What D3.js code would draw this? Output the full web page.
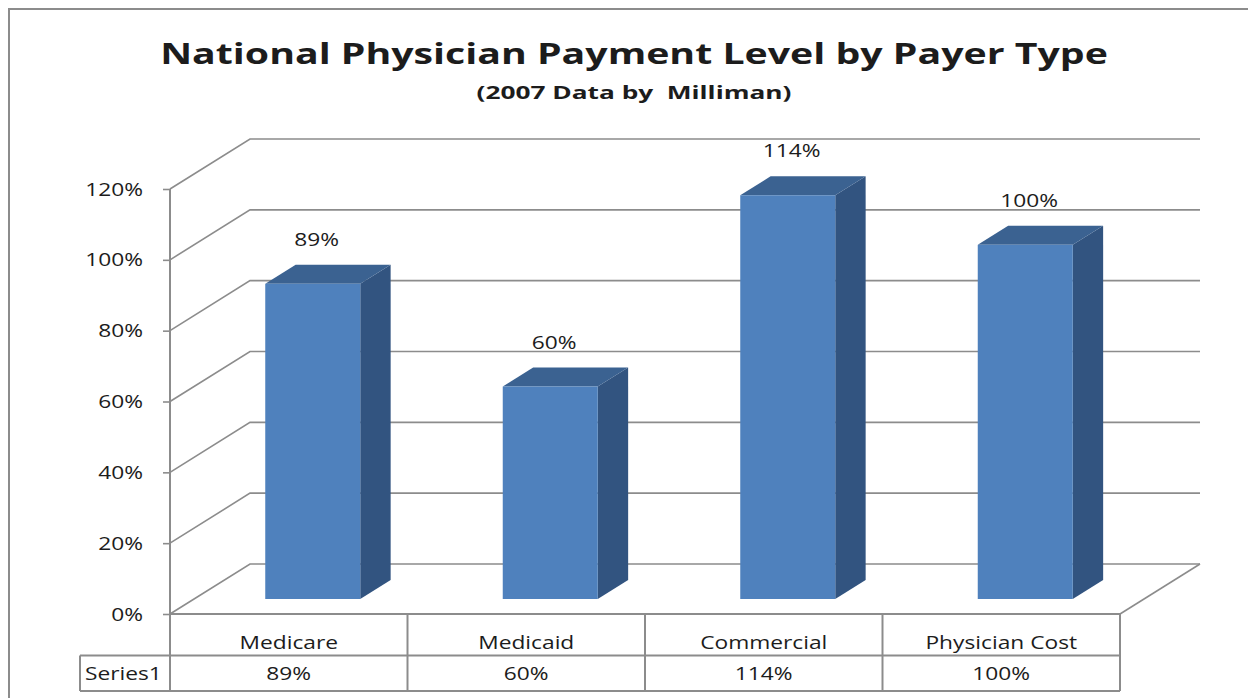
<!DOCTYPE html>
<html>
<head>
<meta charset="utf-8">
<script src="https://cdn.jsdelivr.net/npm/d3@7"></script>
<style>
  body { margin: 0; background: #fff; }
  text { font-family: "Open Sans", "Noto Sans", sans-serif; fill: #1c1c1c; white-space: pre; }
</style>
</head>
<body>
<svg id="chart" width="1248" height="698"></svg>
<script>
// Chart data
const categories = ["Medicare", "Medicaid", "Commercial", "Physician Cost"];
const values = [0.89, 0.60, 1.14, 1.00];
const seriesName = "Series1";
const yTicks = [0, 0.2, 0.4, 0.6, 0.8, 1.0, 1.2];

// Layout
const left = 170, right = 1120, floorY = 614, topY = 189;
const depthX = 80, depthY = -50;     // 3d wall offset
const stretch = 1.3;                  // text looks horizontally stretched in the original
const grey = "#8c8c8c";

const svg = d3.select("#chart");

const x = d3.scaleBand().domain(categories).range([left, right]);
const y = d3.scaleLinear().domain([0, 1.2]).range([floorY, topY]);

// outer frame
svg.append("rect")
  .attr("x", 9).attr("y", 9).attr("width", 1260).attr("height", 710)
  .attr("fill", "none").attr("stroke", grey).attr("stroke-width", 2);

// helper for stretched text
function label(g, px, py, txt, size, anchor, weight) {
  return g.append("text")
    .attr("transform", "translate(" + px + "," + py + ") scale(" + stretch + ",1)")
    .attr("text-anchor", anchor || "middle")
    .attr("font-size", size)
    .attr("font-weight", weight || "normal")
    .text(txt);
}

// fit a centered text to a given width
function fitted(g, px, py, txt, size, weight, width) {
  const t = g.append("text")
    .attr("text-anchor", "middle")
    .attr("font-size", size)
    .attr("font-weight", weight)
    .text(txt);
  const sx = width / t.node().getComputedTextLength();
  t.attr("transform", "translate(" + px + "," + py + ") scale(" + sx + ",1)");
  return t;
}

// title
fitted(svg, 634, 64, "National Physician Payment Level by Payer Type", 28.5, "bold", 948);
fitted(svg, 634, 99, "(2007 Data by  Milliman)", 18, "bold", 315);

// gridlines: side wall and back wall
const grid = svg.append("g").attr("stroke", grey).attr("stroke-width", 1.6).attr("fill", "none");
yTicks.forEach(function(t) {
  grid.append("path")
    .attr("d", "M" + left + "," + y(t) + "L" + (left + depthX) + "," + (y(t) + depthY)
      + "L" + (right + depthX) + "," + (y(t) + depthY));
});
// floor right edge
grid.append("path")
  .attr("d", "M" + right + "," + y(0) + "L" + (right + depthX) + "," + (y(0) + depthY));

// bars (3d boxes)
const frontGap = 0.3, barDepth = 0.38, barWidth = 0.4;
const bars = svg.append("g");
categories.forEach(function(c, i) {
  const v = values[i];
  const ox = depthX * frontGap, oy = depthY * frontGap;
  const bx = depthX * barDepth, by = depthY * barDepth;
  const x0 = x(c) + x.bandwidth() * (1 - barWidth) / 2 + ox;
  const x1 = x0 + x.bandwidth() * barWidth;
  const yt = y(v) + oy, yb = y(0) + oy;

  // side
  bars.append("path")
    .attr("d", "M" + x1 + "," + yt + "L" + (x1 + bx) + "," + (yt + by) + "L" + (x1 + bx) + "," + (yb + by)
      + "L" + x1 + "," + yb + "Z")
    .attr("fill", "#325480");
  // top
  bars.append("path")
    .attr("d", "M" + x0 + "," + yt + "L" + (x0 + bx) + "," + (yt + by) + "L" + (x1 + bx) + "," + (yt + by)
      + "L" + x1 + "," + yt + "Z")
    .attr("fill", "#3b6291");
  // front
  bars.append("rect")
    .attr("x", x0).attr("y", yt).attr("width", x1 - x0).attr("height", yb - yt)
    .attr("fill", "#4f81bd");

  // data label
  label(bars, (x0 + x1) / 2 + 4, yt - 38, d3.format(".0%")(v), 17.5);
});

// y axis
const axis = svg.append("g")
  .attr("transform", "translate(" + left + ",0)")
  .call(d3.axisLeft(y).tickValues(yTicks).tickFormat(d3.format(".0%")).tickSize(7).tickPadding(0));
axis.select(".domain").remove();
axis.selectAll(".tick line").attr("stroke", grey).attr("stroke-width", 1.6);
axis.selectAll(".tick text")
  .attr("x", null).attr("dy", null)
  .attr("transform", "translate(-27,6) scale(" + stretch + ",1)")
  .attr("font-size", 17.5)
  .attr("font-family", "Open Sans")
  .attr("fill", "#1c1c1c");

// data table
const rowTop = floorY, rowMid = 655.5, rowBot = 691;
const table = svg.append("g").attr("stroke", grey).attr("stroke-width", 2).attr("fill", "none");
table.append("line").attr("x1", left).attr("x2", right).attr("y1", rowTop).attr("y2", rowTop);
table.append("line").attr("x1", 80).attr("x2", right).attr("y1", rowMid).attr("y2", rowMid);
table.append("line").attr("x1", 80).attr("x2", right).attr("y1", rowBot).attr("y2", rowBot);
table.append("line").attr("x1", 80).attr("x2", 80).attr("y1", rowMid).attr("y2", rowBot);
table.append("line").attr("x1", left).attr("x2", left).attr("y1", topY).attr("y2", rowBot);
categories.forEach(function(c) {
  const xe = x(c) + x.bandwidth();
  table.append("line").attr("x1", xe).attr("x2", xe).attr("y1", rowTop).attr("y2", rowBot);
});

const cells = svg.append("g");
categories.forEach(function(c, i) {
  const cx = x(c) + x.bandwidth() / 2;
  label(cells, cx, 649, c, 17.5);
  label(cells, cx, 680, d3.format(".0%")(values[i]), 17.5);
});
label(cells, 85, 680, seriesName, 17.5, "start");
</script>
</body>
</html>
